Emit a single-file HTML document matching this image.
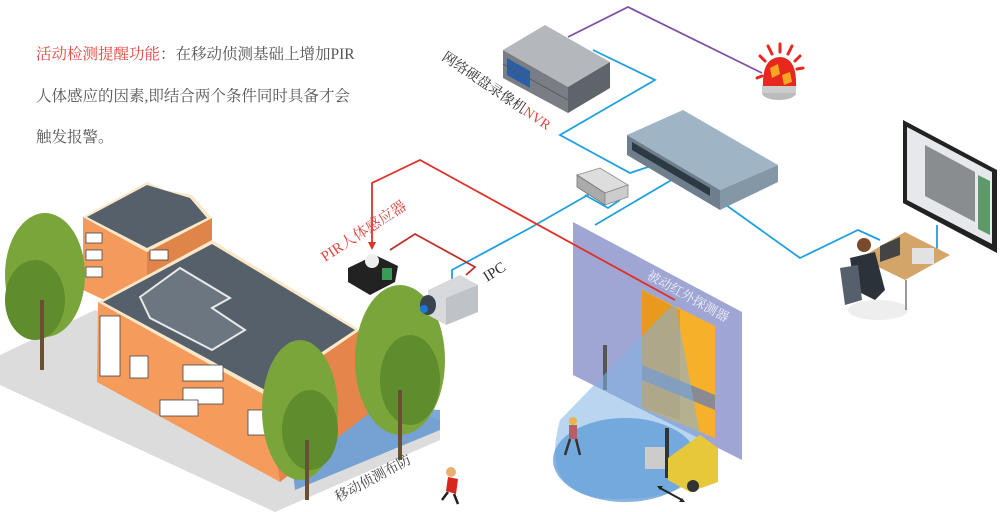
<!DOCTYPE html>
<html><head><meta charset="utf-8"><style>
html,body{margin:0;padding:0;background:#fff;width:1000px;height:512px;overflow:hidden}
svg{display:block}
.t{font-family:"Liberation Serif","Noto Serif CJK SC","Noto Sans CJK SC",serif}
</style></head><body>
<svg width="1000" height="512" viewBox="0 0 1000 512" xmlns="http://www.w3.org/2000/svg">
<text class="t" x="36" y="59" font-size="15.5" fill="#555"><tspan fill="#e2463f">活动检测提醒功能</tspan>：在移动侦测基础上增加PIR</text>
<text class="t" x="36" y="101" font-size="15.5" fill="#555">人体感应的因素,即结合两个条件同时具备才会</text>
<text class="t" x="36" y="142" font-size="15.5" fill="#555">触发报警。</text>

<polygon points="0,355 95,310 440,420 440,440 275,512 0,385" fill="#dcdcdc"/>
<polygon points="285,400 440,410 440,430 295,490" fill="#5b93cf" opacity="0.8"/>
<polygon points="83,217 147,252 147,320 83,290" fill="#f39a5c"/>
<polygon points="147,252 212,218 212,290 147,320" fill="#e0854a"/>
<polygon points="83,217 147,182 165,190 192,195 212,218 147,252" fill="#fbe8c8"/>
<polygon points="87,217 147,185 190,198 207,218 147,248" fill="#56606b"/>
<polygon points="98,302 265,395 280,482 97,382" fill="#f59c5d"/>
<polygon points="265,395 360,330 380,405 280,482" fill="#e5854b"/>
<polygon points="98,302 212,240 360,330 265,395" fill="#fbe8c8"/>
<polygon points="103,302 212,244 355,330 265,390" fill="#56606b"/>
<polygon points="140,297 180,268 230,298 212,308 245,330 212,350 150,318" fill="#6c7680" stroke="#e8e8e8" stroke-width="2"/>
<g fill="#fff" stroke="#444" stroke-width="0.8">
<rect x="100" y="316" width="20" height="60"/>
<rect x="130" y="356" width="18" height="22"/>
<rect x="183" y="365" width="40" height="16"/>
<rect x="183" y="388" width="40" height="16"/>
<rect x="248" y="410" width="18" height="25"/>
<rect x="160" y="400" width="38" height="16"/>
<rect x="86" y="233" width="16" height="10"/>
<rect x="86" y="250" width="16" height="10"/>
<rect x="86" y="267" width="16" height="10"/>
<rect x="150" y="250" width="18" height="10"/>
</g>
<g fill="#7aa53a">
<ellipse cx="45" cy="275" rx="40" ry="62"/>
<ellipse cx="35" cy="300" rx="30" ry="40" fill="#5f8c2c"/>
<ellipse cx="300" cy="410" rx="38" ry="70"/>
<ellipse cx="310" cy="430" rx="28" ry="40" fill="#5f8c2c"/>
<ellipse cx="400" cy="360" rx="45" ry="75"/>
<ellipse cx="410" cy="380" rx="30" ry="45" fill="#5f8c2c"/>
</g>
<rect x="40" y="300" width="4" height="70" fill="#6b4f33"/>
<rect x="305" y="440" width="4" height="60" fill="#6b4f33"/>
<rect x="398" y="390" width="4" height="70" fill="#6b4f33"/>

<polygon points="573,222 742,312 742,460 573,375" fill="#8f96cb" opacity="0.85"/>
<polygon points="642,290 715,326 715,438 642,408" fill="#f7b02a"/>
<polygon points="642,290 680,310 680,420 642,408" fill="#e89a1e"/>
<polygon points="642,365 715,395 715,410 642,380" fill="#6f80ad" opacity="0.8"/>
<rect x="603" y="345" width="4" height="45" fill="#555"/>
<path d="M675,302 L560,420 Q540,490 600,498 Q690,505 705,460 Z" fill="#7fb2e3" opacity="0.55"/>
<ellipse cx="625" cy="460" rx="72" ry="42" fill="#5d9ad8" opacity="0.75"/>
<circle cx="573" cy="421" r="4" fill="#e9b44c"/>
<rect x="569" y="425" width="8" height="14" fill="#b56065"/>
<path d="M570,439 L565,455 M576,439 L580,455" stroke="#333" stroke-width="2.5"/>
<rect x="645" y="447" width="20" height="22" fill="#ccc"/>
<rect x="665" y="428" width="4" height="50" fill="#333"/>
<polygon points="668,458 700,435 718,448 718,482 690,492 668,480" fill="#e7c83a"/>
<circle cx="693" cy="486" r="6" fill="#333"/>
<path d="M660,488 L682,500" stroke="#222" stroke-width="2"/>
<path d="M657,486 l6,0 l-3,4 z M685,502 l-6,0 l3,-4 z" fill="#222"/>

<polyline points="568,37 628,7 762,73" fill="none" stroke="#7e4fa5" stroke-width="1.8"/>
<polyline points="593,50 655,80 560,135 630,173 660,163" fill="none" stroke="#1ea0e0" stroke-width="1.8"/>
<polyline points="585,195 608,208 620,200" fill="none" stroke="#1ea0e0" stroke-width="1.8"/>
<polyline points="600,188 530,228 452,270 452,284" fill="none" stroke="#1ea0e0" stroke-width="1.8"/>
<polyline points="680,175 595,225" fill="none" stroke="#1ea0e0" stroke-width="1.8"/>
<polyline points="712,195 800,258 858,230 880,240" fill="none" stroke="#1ea0e0" stroke-width="1.8"/>
<polyline points="915,260 937,248 937,225" fill="none" stroke="#1ea0e0" stroke-width="1.8"/>
<polyline points="372,245 372,183 420,160 675,300" fill="none" stroke="#e03028" stroke-width="1.8"/>
<path d="M368,242 l4,8 l4,-8 z" fill="#e03028"/>
<polyline points="390,250 415,234 475,267 466,275" fill="none" stroke="#c0302a" stroke-width="1.8"/>

<!-- NVR -->
<polygon points="503,50 545,25 610,62 568,87" fill="#b4b7bb"/>
<polygon points="503,50 568,87 568,113 503,78" fill="#7a7e84"/>
<polygon points="568,87 610,62 610,88 568,113" fill="#5f636a"/>
<polygon points="507,58 530,71 530,88 507,75" fill="#2a5fa5"/>
<line x1="503" y1="64" x2="568" y2="100" stroke="#555" stroke-width="0.8"/>
<!-- alarm -->
<ellipse cx="779" cy="93" rx="17" ry="7" fill="#bbb"/>
<rect x="762" y="85" width="34" height="8" fill="#ccc"/>
<path d="M763,86 Q762,58 780,57 Q797,58 796,86 Z" fill="#e8281e"/>
<path d="M770,68 l8,-4 l2,10 l-8,4z M782,75 l8,-3 l2,10 l-8,3z" fill="#f5a623"/>
<g stroke="#e8281e" stroke-width="3" stroke-linecap="round">
<line x1="780" y1="44" x2="780" y2="52"/><line x1="792" y1="46" x2="788" y2="54"/><line x1="768" y1="46" x2="772" y2="54"/>
<line x1="800" y1="56" x2="795" y2="61"/><line x1="760" y1="56" x2="765" y2="61"/><line x1="803" y1="68" x2="797" y2="69"/>
<line x1="757" y1="78" x2="762" y2="76"/>
</g>
<polygon points="627,135 683,110 778,165 720,190" fill="#9fb4c4"/>
<polygon points="627,135 720,190 720,210 627,155" fill="#6e7e8c"/>
<polygon points="720,190 778,165 778,182 720,210" fill="#8497a6"/>
<polygon points="632,142 710,188 710,196 632,150" fill="#2d3a44"/>
<polygon points="577,175 600,168 628,185 605,193" fill="#ddd" stroke="#888" stroke-width="0.8"/>
<polygon points="577,175 605,193 605,205 577,187" fill="#aaa" stroke="#777" stroke-width="0.8"/>
<polygon points="605,193 628,185 628,197 605,205" fill="#ccc" stroke="#888" stroke-width="0.8"/>
<polygon points="348,268 375,255 398,266 395,282 370,295 348,282" fill="#222"/>
<circle cx="372" cy="261" r="7" fill="#eee"/>
<rect x="382" y="268" width="10" height="12" fill="#3a9a5a"/>
<polygon points="428,290 460,275 478,285 478,312 446,325 428,315" fill="#d7d9dc"/>
<polygon points="446,298 478,285 478,312 446,325" fill="#bfc2c6"/>
<ellipse cx="428" cy="305" rx="8" ry="10" fill="#3a4450"/>
<circle cx="424" cy="309" r="4" fill="#1b77d8"/>
<!-- monitor -->
<polygon points="903,120 997,170 997,253 903,203" fill="#222"/>
<polygon points="907,127 992,172 992,244 907,200" fill="#e6e8ec"/>
<polygon points="925,145 975,172 975,222 925,196" fill="#8a8d90"/>
<polygon points="978,175 990,181 990,235 978,229" fill="#5c9a6a"/>
<polygon points="860,258 905,232 950,255 905,280" fill="#d4a569"/>
<polygon points="880,246 900,237 900,255 880,262" fill="#444"/>
<rect x="912" y="248" width="22" height="16" fill="#e2e2e2"/>
<ellipse cx="878" cy="310" rx="30" ry="10" fill="#eee"/>
<circle cx="864" cy="245" r="7" fill="#7a4b2a"/>
<polygon points="850,258 875,252 885,290 875,300 855,290" fill="#2c323a"/>
<polygon points="840,268 858,265 862,300 845,305" fill="#55606c"/>
<line x1="906" y1="280" x2="906" y2="310" stroke="#999" stroke-width="2"/>

<text class="t" font-size="14" fill="#333" transform="translate(441,59) rotate(34)">网络硬盘录像机<tspan fill="#e2463f">NVR</tspan></text>
<text class="t" font-size="15" fill="#e2463f" transform="translate(325,262) rotate(-33)">PIR人体感应器</text>
<text class="t" font-size="15" fill="#333" transform="translate(487,282) rotate(-32)">IPC</text>
<text class="t" font-size="13" fill="#eef0fa" transform="translate(646,278) rotate(29)">被动红外探测器</text>
<text class="t" font-size="14" fill="#444" transform="translate(338,502) rotate(-28)">移动侦测布防</text>
<circle cx="451" cy="472" r="5" fill="#e8b070"/>
<path d="M448,477 l10,2 l-2,15 l-10,-3z" fill="#d9261c"/>
<path d="M448,492 l-6,8 M454,494 l4,10" stroke="#222" stroke-width="2.5"/>
</svg>
</body></html>
